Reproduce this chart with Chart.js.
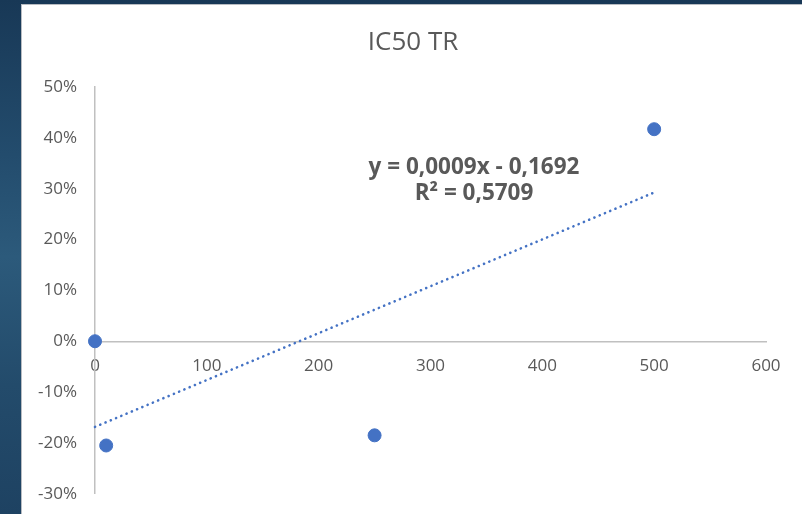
<!DOCTYPE html>
<html>
<head>
<meta charset="utf-8">
<script src="https://cdn.jsdelivr.net/npm/chart.js@4.4.1/dist/chart.umd.min.js"></script>
<style>
  html, body { margin: 0; padding: 0; }
  body {
    width: 802px; height: 514px; overflow: hidden; position: relative;
    background: linear-gradient(180deg, #183856 0%, #234c6d 30%, #2c5a7b 50%, #234b6b 75%, #1e4262 100%);
  }
  #panel {
    position: absolute; left: 21px; top: 4px; width: 781px; height: 510px;
    background: #ffffff; border-left: 1px solid #b8bcc2; border-top: 1px solid #b8bcc2;
    box-sizing: border-box; overflow: hidden;
  }
  #wrap { position: absolute; left: 1px; top: 1px; width: 780px; height: 516px; }
  #title {
    position: absolute; left: 0; top: 18px; width: 780px; text-align: center;
    font-family: "Open Sans", sans-serif; font-size: 26px; line-height: 32px; color: #595959;
    pointer-events: none;
  }
</style>
</head>
<body>
<div id="panel"><div id="wrap"><canvas id="c" width="780" height="516"></canvas><div id="title"></div></div></div>
<script>
// ---- data ----
const concentrations = [0, 10, 250, 500];          // x values
const responses = [0.0, -0.205, -0.185, 0.417];     // y values (fraction)
const xTicks = [0, 100, 200, 300, 400, 500, 600];
const yTicks = [-0.3, -0.2, -0.1, 0, 0.1, 0.2, 0.3, 0.4, 0.5];
const chartTitle = 'IC50 TR';
const equationLines = ['y = 0,0009x - 0,1692', 'R² = 0,5709'];

document.getElementById('title').textContent = chartTitle;

// linear regression (trendline) from the data
const n = concentrations.length;
const mx = concentrations.reduce((a, b) => a + b, 0) / n;
const my = responses.reduce((a, b) => a + b, 0) / n;
let sxy = 0, sxx = 0;
for (let i = 0; i < n; i++) {
  sxy += (concentrations[i] - mx) * (responses[i] - my);
  sxx += (concentrations[i] - mx) ** 2;
}
const slope = sxy / sxx;
const intercept = my - slope * mx;
const xMinData = Math.min(...concentrations), xMaxData = Math.max(...concentrations);
const trendPoints = [xMinData, xMaxData].map(x => ({ x, y: intercept + slope * x }));

const blue = '#4472C4';
const textGray = '#595959';
const axisGray = '#c0c0c0';

const equationPlugin = {
  id: 'equation',
  afterDatasetsDraw(chart) {
    const { ctx } = chart;
    ctx.save();
    ctx.fillStyle = textGray;
    ctx.font = 'bold 22.5px "Open Sans"';
    ctx.textAlign = 'center';
    ctx.textBaseline = 'middle';
    ctx.fillText(equationLines[0], 451, 162);
    ctx.fillText(equationLines[1], 451, 188);
    ctx.restore();
  }
};

new Chart(document.getElementById('c'), {
  type: 'scatter',
  data: {
    datasets: [
      {
        label: 'data',
        data: concentrations.map((x, i) => ({ x, y: responses[i] })),
        backgroundColor: blue,
        borderColor: blue,
        pointRadius: 6.5,
        pointHoverRadius: 6.5,
        showLine: false,
        clip: false,
        order: 1
      },
      {
        label: 'trend',
        data: trendPoints,
        showLine: true,
        borderColor: blue,
        borderWidth: 2.6,
        borderDash: [0.1, 5.6],
        borderCapStyle: 'round',
        pointRadius: 0,
        fill: false,
        clip: false,
        order: 2
      }
    ]
  },
  options: {
    responsive: false,
    animation: false,
    devicePixelRatio: 1,
    layout: { padding: { left: 0, right: 37, top: 81, bottom: 21 } },
    plugins: {
      legend: { display: false },
      tooltip: { enabled: false },
      title: { display: false }
    },
    scales: {
      x: {
        type: 'linear',
        position: { y: 0 },
        min: 0, max: 600,
        afterBuildTicks: s => { s.ticks = xTicks.map(v => ({ value: v })); },
        grid: { display: false, drawTicks: false },
        border: { display: true, color: axisGray, width: 1.5 },
        ticks: {
          color: textGray,
          font: { family: '"Open Sans"', size: 17 },
          padding: 15
        }
      },
      y: {
        type: 'linear',
        position: 'left',
        min: -0.3, max: 0.5,
        afterBuildTicks: s => { s.ticks = yTicks.map(v => ({ value: v })); },
        afterFit: s => { s.width = 72; },
        grid: { display: false, drawTicks: false },
        border: { display: true, color: axisGray, width: 1.5 },
        ticks: {
          color: textGray,
          font: { family: '"Open Sans"', size: 17 },
          padding: 18,
          callback: v => Math.round(v * 100) + '%'
        }
      }
    }
  },
  plugins: [equationPlugin]
});
</script>
</body>
</html>
